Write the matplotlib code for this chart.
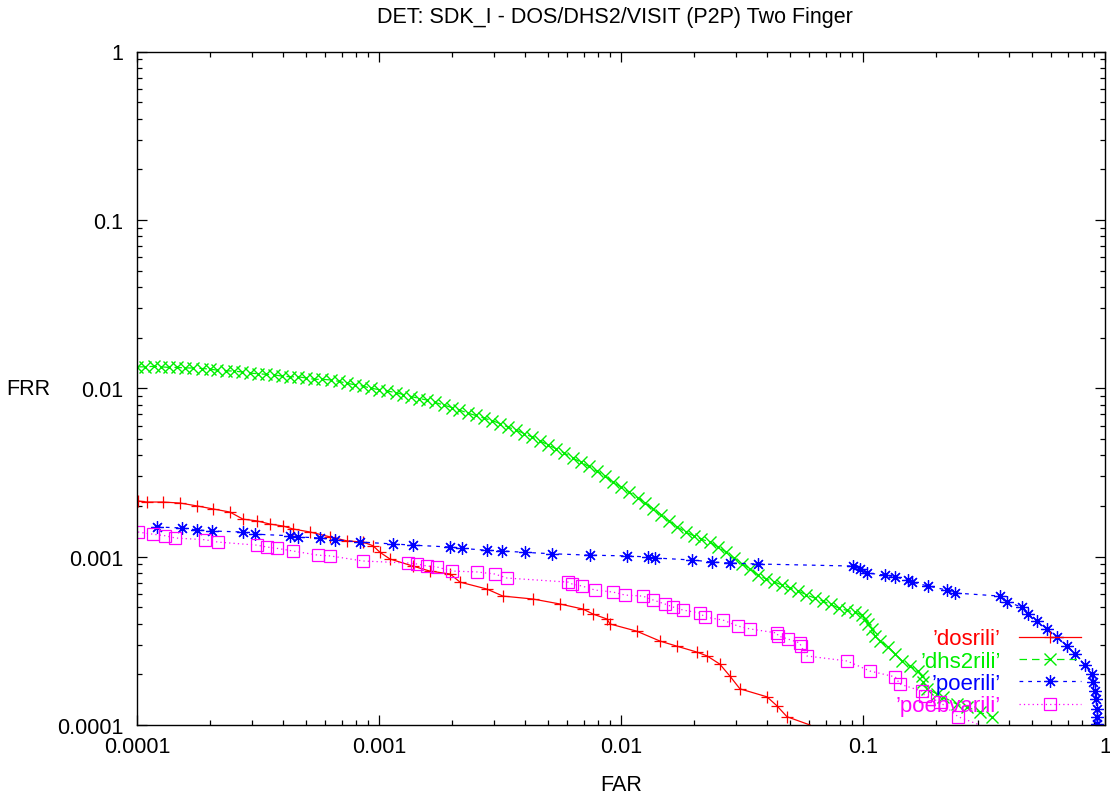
import matplotlib
matplotlib.use("Agg")
import matplotlib.pyplot as plt
from matplotlib.ticker import FixedLocator, FixedFormatter, LogLocator, NullFormatter

plt.rcParams['font.family'] = ['Liberation Sans', 'DejaVu Sans']

# ---- DET curve data (FAR, FRR) ----
dos_far = [1.01e-4, 1.10e-4, 1.28e-4, 1.51e-4, 1.77e-4, 2.06e-4, 2.42e-4, 2.74e-4, 3.13e-4,
           3.55e-4, 4.01e-4, 4.41e-4, 5.19e-4, 6.28e-4, 7.38e-4, 8.59e-4, 9.45e-4, 1.01e-3,
           1.11e-3, 1.38e-3, 1.62e-3, 1.97e-3, 2.16e-3, 2.79e-3, 3.25e-3, 4.33e-3, 5.60e-3,
           6.97e-3, 7.66e-3, 8.75e-3, 9.01e-3, 1.16e-2, 1.45e-2, 1.70e-2, 2.06e-2, 2.27e-2,
           2.56e-2, 2.82e-2, 3.10e-2, 4.01e-2, 4.41e-2, 4.85e-2, 6.04e-2]
dos_frr = [2.14e-3, 2.11e-3, 2.11e-3, 2.08e-3, 2.00e-3, 1.92e-3, 1.84e-3, 1.67e-3, 1.63e-3,
           1.56e-3, 1.52e-3, 1.46e-3, 1.40e-3, 1.31e-3, 1.24e-3, 1.22e-3, 1.16e-3, 1.06e-3,
           9.68e-4, 8.79e-4, 8.21e-4, 7.88e-4, 7.06e-4, 6.42e-4, 5.83e-4, 5.60e-4, 5.23e-4,
           4.88e-4, 4.56e-4, 4.26e-4, 3.98e-4, 3.61e-4, 3.15e-4, 2.94e-4, 2.71e-4, 2.57e-4,
           2.30e-4, 1.95e-4, 1.64e-4, 1.47e-4, 1.30e-4, 1.12e-4, 1.00e-4]

dhs2_far = [1.00e-4, 1.08e-4, 1.17e-4, 1.26e-4, 1.36e-4, 1.47e-4, 1.58e-4, 1.71e-4, 1.85e-4, 2.00e-4,
            2.15e-4, 2.33e-4, 2.51e-4, 2.71e-4, 2.93e-4, 3.16e-4, 3.41e-4, 3.69e-4, 3.98e-4, 4.30e-4,
            4.64e-4, 5.01e-4, 5.41e-4, 5.84e-4, 6.31e-4, 6.81e-4, 7.36e-4, 7.94e-4, 8.58e-4, 9.26e-4,
            1.00e-3, 1.08e-3, 1.17e-3, 1.26e-3, 1.36e-3, 1.47e-3, 1.58e-3, 1.71e-3, 1.85e-3, 2.00e-3,
            2.15e-3, 2.33e-3, 2.51e-3, 2.71e-3, 2.93e-3, 3.16e-3, 3.41e-3, 3.69e-3, 3.98e-3, 4.30e-3,
            4.64e-3, 5.01e-3, 5.41e-3, 5.84e-3, 6.31e-3, 6.81e-3, 7.36e-3, 7.94e-3, 8.58e-3, 9.26e-3,
            1.00e-2, 1.08e-2, 1.17e-2, 1.26e-2, 1.36e-2, 1.47e-2, 1.58e-2, 1.71e-2, 1.85e-2, 2.00e-2,
            2.15e-2, 2.33e-2, 2.51e-2, 2.71e-2, 2.93e-2, 3.16e-2, 3.41e-2, 3.69e-2, 3.98e-2, 4.30e-2,
            4.64e-2, 5.01e-2, 5.41e-2, 5.84e-2, 6.31e-2, 6.81e-2, 7.36e-2, 7.94e-2, 8.58e-2, 9.26e-2,
            9.91e-2, 0.102, 0.105, 0.109, 0.112, 0.118, 0.127, 0.136, 0.145, 0.156,
            0.169, 0.175, 0.177, 0.184, 0.202, 0.214, 0.244, 0.269, 0.304, 0.341]
dhs2_frr = [1.34e-2, 1.34e-2, 1.35e-2, 1.34e-2, 1.33e-2, 1.33e-2, 1.32e-2, 1.32e-2, 1.31e-2, 1.30e-2,
            1.28e-2, 1.27e-2, 1.265e-2, 1.25e-2, 1.23e-2, 1.22e-2, 1.21e-2, 1.20e-2, 1.18e-2, 1.17e-2,
            1.17e-2, 1.15e-2, 1.13e-2, 1.13e-2, 1.12e-2, 1.10e-2, 1.07e-2, 1.05e-2, 1.03e-2, 1.00e-2,
            9.82e-3, 9.63e-3, 9.43e-3, 9.18e-3, 8.93e-3, 8.69e-3, 8.51e-3, 8.23e-3, 7.95e-3, 7.68e-3,
            7.42e-3, 7.12e-3, 6.89e-3, 6.65e-3, 6.43e-3, 6.17e-3, 5.88e-3, 5.65e-3, 5.38e-3, 5.13e-3,
            4.86e-3, 4.60e-3, 4.36e-3, 4.12e-3, 3.85e-3, 3.65e-3, 3.43e-3, 3.22e-3, 3.01e-3, 2.77e-3,
            2.59e-3, 2.42e-3, 2.24e-3, 2.08e-3, 1.93e-3, 1.77e-3, 1.63e-3, 1.50e-3, 1.40e-3, 1.33e-3,
            1.27e-3, 1.22e-3, 1.14e-3, 1.07e-3, 9.81e-4, 9.10e-4, 8.44e-4, 7.78e-4, 7.36e-4, 7.07e-4,
            6.78e-4, 6.51e-4, 6.25e-4, 5.92e-4, 5.68e-4, 5.45e-4, 5.20e-4, 4.95e-4, 4.79e-4, 4.69e-4,
            4.50e-4, 4.26e-4, 3.98e-4, 3.72e-4, 3.38e-4, 3.15e-4, 2.91e-4, 2.64e-4, 2.40e-4, 2.24e-4,
            2.09e-4, 1.95e-4, 1.80e-4, 1.64e-4, 1.53e-4, 1.47e-4, 1.33e-4, 1.28e-4, 1.19e-4, 1.12e-4]

poe_far = [1.21e-4, 1.53e-4, 1.77e-4, 2.04e-4, 2.74e-4, 3.07e-4, 4.29e-4, 4.63e-4, 5.70e-4,
           6.58e-4, 8.35e-4, 1.14e-3, 1.38e-3, 1.97e-3, 2.20e-3, 2.79e-3, 3.22e-3, 4.01e-3,
           5.19e-3, 7.45e-3, 1.06e-2, 1.29e-2, 1.38e-2, 1.96e-2, 2.38e-2, 2.82e-2, 3.68e-2,
           9.10e-2, 9.72e-2, 0.104, 0.123, 0.136, 0.153, 0.159, 0.186, 0.222, 0.240,
           0.368, 0.394, 0.454, 0.481, 0.524, 0.575, 0.634, 0.697, 0.752, 0.826, 0.883,
           0.892, 0.910, 0.918, 0.927, 0.927, 0.927]
poe_frr = [1.50e-3, 1.48e-3, 1.44e-3, 1.42e-3, 1.40e-3, 1.36e-3, 1.33e-3, 1.31e-3, 1.29e-3,
           1.26e-3, 1.22e-3, 1.19e-3, 1.17e-3, 1.14e-3, 1.12e-3, 1.09e-3, 1.08e-3, 1.06e-3,
           1.04e-3, 1.02e-3, 1.01e-3, 9.95e-4, 9.82e-4, 9.55e-4, 9.29e-4, 9.16e-4, 9.04e-4,
           8.79e-4, 8.44e-4, 7.99e-4, 7.78e-4, 7.57e-4, 7.26e-4, 7.06e-4, 6.69e-4, 6.33e-4, 6.08e-4,
           5.83e-4, 5.37e-4, 5.02e-4, 4.56e-4, 4.15e-4, 3.72e-4, 3.33e-4, 2.94e-4, 2.64e-4, 2.27e-4,
           2.01e-4, 1.80e-4, 1.59e-4, 1.43e-4, 1.24e-4, 1.12e-4, 1.01e-4]

poebva_far = [1.01e-4, 1.16e-4, 1.31e-4, 1.44e-4, 1.91e-4, 2.16e-4, 3.13e-4, 3.44e-4, 3.79e-4,
              4.41e-4, 5.60e-4, 6.28e-4, 8.59e-4, 1.32e-3, 1.44e-3, 1.58e-3, 1.74e-3, 2.00e-3,
              2.54e-3, 3.01e-3, 3.38e-3, 6.04e-3, 6.28e-3, 6.90e-3, 7.81e-3, 9.27e-3, 1.04e-2,
              1.23e-2, 1.36e-2, 1.52e-2, 1.64e-2, 1.80e-2, 2.12e-2, 2.22e-2, 2.64e-2, 3.04e-2,
              3.41e-2, 4.41e-2, 4.46e-2, 4.90e-2, 5.49e-2, 5.54e-2, 5.87e-2, 8.59e-2, 0.107,
              0.136, 0.142, 0.175, 0.180, 0.208, 0.247, 0.304]
poebva_frr = [1.40e-3, 1.36e-3, 1.33e-3, 1.29e-3, 1.26e-3, 1.22e-3, 1.17e-3, 1.14e-3, 1.12e-3,
              1.08e-3, 1.02e-3, 1.01e-3, 9.42e-4, 9.16e-4, 9.04e-4, 8.79e-4, 8.67e-4, 8.21e-4,
              8.11e-4, 7.88e-4, 7.46e-4, 7.06e-4, 6.88e-4, 6.69e-4, 6.33e-4, 6.16e-4, 5.91e-4,
              5.83e-4, 5.52e-4, 5.23e-4, 5.02e-4, 4.82e-4, 4.62e-4, 4.38e-4, 4.20e-4, 3.87e-4,
              3.72e-4, 3.52e-4, 3.38e-4, 3.24e-4, 3.07e-4, 2.94e-4, 2.57e-4, 2.40e-4, 2.09e-4,
              1.93e-4, 1.75e-4, 1.59e-4, 1.49e-4, 1.37e-4, 1.12e-4, 1.00e-4]

series_labels = ["\u2019dosrili\u2019", "\u2019dhs2rili\u2019", "\u2019poerili\u2019", "\u2019poebvarili\u2019"]
decade_ticks = [1e-4, 1e-3, 1e-2, 1e-1, 1.0]
decade_labels = ["0.0001", "0.001", "0.01", "0.1", "1"]

fig = plt.figure(figsize=(11.10, 8.03), dpi=100)
ax = fig.add_axes([137 / 1110, 77 / 803, 968 / 1110, 673.5 / 803])
ax.set_xscale('log')
ax.set_yscale('log')

ax.plot(dos_far, dos_frr, color='#ff0000', lw=0.9, ls='-', marker='+', ms=8, mew=0.9,
        markevery=slice(0, len(dos_far) - 1), label=series_labels[0])
ax.plot(dhs2_far, dhs2_frr, color='#00ee00', lw=0.9, ls=(0, (6, 4)), marker='x', ms=8, mew=1.0,
        label=series_labels[1])
ax.plot(poe_far, poe_frr, color='#0000ff', lw=0.9, ls=(0, (3, 4)), marker=(8, 2, 0), ms=9, mew=0.9,
        label=series_labels[2])
ax.plot(poebva_far, poebva_frr, color='#ff00ff', lw=0.9, ls=(0, (1, 2.5)), marker='s', ms=8, mew=0.9,
        mfc='none', markevery=slice(0, len(poebva_far) - 1), label=series_labels[3])

ax.set_xlim(1e-4, 1)
ax.set_ylim(1e-4, 1)

for axis in (ax.xaxis, ax.yaxis):
    axis.set_major_locator(FixedLocator(decade_ticks))
    axis.set_major_formatter(FixedFormatter(decade_labels))
    axis.set_minor_locator(LogLocator(base=10, subs=range(2, 10), numticks=20))
    axis.set_minor_formatter(NullFormatter())

ax.tick_params(which='both', direction='in', top=True, right=True, width=0.9, colors='black',
               labelsize=15.5)
ax.tick_params(which='major', length=7.5)
ax.tick_params(which='minor', length=3.8)
ax.tick_params(axis='x', which='major', pad=8)
ax.tick_params(axis='y', which='major', pad=10)
for sp in ax.spines.values():
    sp.set_linewidth(1.0)
    sp.set_color('black')

ax.set_xlabel('FAR', fontsize=15.5)
ax.xaxis.set_label_coords(0.5, -0.073)
ax.set_ylabel('FRR', fontsize=15.5, rotation=0, ha='center', va='center')
ax.yaxis.set_label_coords(-0.1126, 0.499)

fig.text(615 / 1110, 1 - 18 / 803, 'DET: SDK_I - DOS/DHS2/VISIT (P2P) Two Finger',
         ha='center', va='center', fontsize=15.5)

ax.legend(loc='upper right', bbox_to_anchor=(0.975, 0.1433), markerfirst=False, frameon=False,
          fontsize=16, handlelength=2.8, handletextpad=0.8, labelspacing=0.06,
          borderpad=0, borderaxespad=0, labelcolor='linecolor')

fig.savefig('out.png', dpi=100)
